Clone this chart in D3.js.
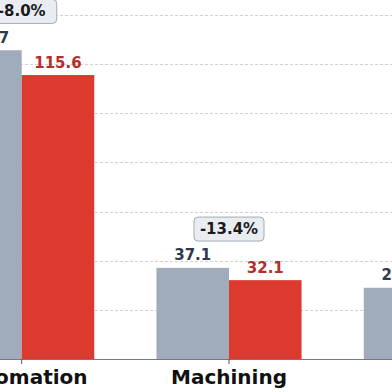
<!DOCTYPE html>
<html>
<head>
<meta charset="utf-8">
<script src="https://cdn.jsdelivr.net/npm/d3@7"></script>
<style>
  html, body { margin: 0; padding: 0; background: #fff; }
  svg { display: block; font-family: "DejaVu Sans", sans-serif; }
</style>
</head>
<body>
<svg id="chart" width="392" height="392"></svg>
<script>
// data
const categories = ['Automation', 'Machining', 'Tooling'];
const seriesKeys = ['before', 'after'];
const beforeValues = [125.7, 37.1, 29.0];
const afterValues = [115.6, 32.1, 24.8];
const changeLabels = ['-8.0%', '-13.4%', '-14.5%'];
const yTicks = [20, 40, 60, 80, 100, 120, 140];

const colors = { before: '#a0abbb', after: '#dc3a2f' };
const labelColors = { before: '#2f3a4a', after: '#b52d2d' };

const rows = categories.map((c, i) => ({
    category: c,
    before: beforeValues[i],
    after: afterValues[i],
    change: changeLabels[i]
}));

const svg = d3.select('#chart');
const baseY = 359;

const x = d3.scaleBand()
    .domain(categories)
    .range([-81.95, 539.95])
    .paddingInner(0.3)
    .paddingOuter(0.15);

const xSub = d3.scaleBand()
    .domain(seriesKeys)
    .range([0, x.bandwidth()]);

const y = d3.scaleLinear()
    .domain([0, 140])
    .range([baseY, 15.1]);

// grid
svg.append('g')
    .selectAll('line')
    .data(yTicks)
    .join('line')
    .attr('x1', 0)
    .attr('x2', 392)
    .attr('y1', d => Math.round(y(d)) + 0.5)
    .attr('y2', d => Math.round(y(d)) + 0.5)
    .attr('stroke', '#d2d2d2')
    .attr('stroke-width', 1)
    .attr('stroke-dasharray', '3,2');

// bars
const groups = svg.append('g')
    .selectAll('g')
    .data(rows)
    .join('g')
    .attr('transform', d => `translate(${x(d.category)},0)`);

groups.selectAll('rect')
    .data(d => seriesKeys.map(k => ({ key: k, value: d[k] })))
    .join('rect')
    .attr('x', d => xSub(d.key))
    .attr('width', xSub.bandwidth())
    .attr('y', d => y(d.value))
    .attr('height', d => baseY - y(d.value))
    .attr('fill', d => colors[d.key]);

groups.selectAll('text.value')
    .data(d => seriesKeys.map(k => ({ key: k, value: d[k] })))
    .join('text')
    .classed('value', true)
    .attr('x', d => xSub(d.key) + xSub.bandwidth() / 2)
    .attr('y', d => y(d.value) - 7.5)
    .attr('text-anchor', 'middle')
    .attr('font-size', 15)
    .attr('font-weight', 'bold')
    .attr('fill', d => labelColors[d.key])
    .text(d => d.value.toFixed(1));

// change badges
const badges = groups.append('g')
    .attr('transform', d => `translate(${x.bandwidth() / 2},${y(Math.max(d.before, d.after)) - 38.8})`);

badges.append('rect')
    .attr('x', -35)
    .attr('y', -12)
    .attr('width', 70)
    .attr('height', 24)
    .attr('rx', 4)
    .attr('fill', '#e9edf2')
    .attr('stroke', '#a3abb6')
    .attr('stroke-width', 1);

badges.append('text')
    .attr('text-anchor', 'middle')
    .attr('dominant-baseline', 'central')
    .attr('font-size', 15)
    .attr('font-weight', 'bold')
    .attr('fill', '#1a1a1a')
    .text(d => d.change);

// x axis
const axis = svg.append('g')
    .attr('transform', `translate(0,${baseY})`)
    .call(d3.axisBottom(x).tickSize(5).tickPadding(6).tickSizeOuter(0));

axis.select('.domain').attr('stroke', '#7a7a7a');
axis.selectAll('.tick line').attr('stroke', '#555');
axis.selectAll('.tick text')
    .attr('font-family', '"DejaVu Sans", sans-serif')
    .attr('font-size', 20)
    .attr('font-weight', 'bold')
    .attr('fill', '#111');
</script>
</body>
</html>
